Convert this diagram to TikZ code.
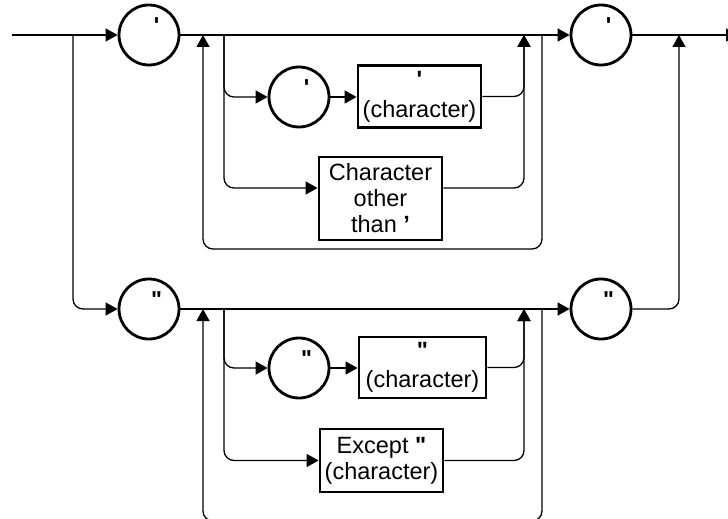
\documentclass[tikz,border=0pt]{standalone}
\usepackage{fontspec}
\setmainfont{Liberation Sans}
\usetikzlibrary{arrows.meta}
\begin{document}
\begin{tikzpicture}[x=1pt,y=-1pt,
  conn/.style={line width=1.3pt, rounded corners=10pt},
  arr/.style={-{Triangle[length=12pt,width=13pt]}},
  term/.style={circle, draw, line width=2.8pt, minimum size=60pt, inner sep=0pt},
  qmark/.style={label={[font=\fontsize{23}{27}\selectfont\bfseries, inner sep=0pt, shift={(7.5pt,9.5pt)}]center:#1}},
  nterm/.style={rectangle, draw, line width=2.8pt, inner sep=0pt, align=center, font=\fontsize{23.5}{26}\selectfont}
]
\clip (0,0) rectangle (728,519);

% terminals (circles)
\node[term, qmark=\textquotesingle] (c1) at (149,35) {};
\node[term, qmark=\textquotedbl] (c2) at (149,309) {};
\node[term, qmark=\textquotesingle] (c3) at (601,35) {};
\node[term, qmark=\textquotedbl] (c4) at (601,309) {};
\node[term, qmark=\textquotesingle] (i1) at (299,97) {};
\node[term, qmark=\textquotedbl] (i2) at (299,368) {};

% boxes
\node[nterm, minimum width=123pt, minimum height=62pt] (b1) at (419.5,96.5) {\textbf{\textquotesingle}\\[4pt](character)};
\node[nterm, minimum width=123pt, minimum height=83pt] (b2) at (380.5,198.5) {Character\\other\\than \textbf{’}};
\node[nterm, minimum width=127pt, minimum height=61pt] (b3) at (422.5,367.5) {\textbf{\textquotedbl}\\[3pt](character)};
\node[nterm, minimum width=123pt, minimum height=63pt] (b4) at (381.5,460.5) {Except \textbf{\textquotedbl}\\(character)};

% junction coordinates
\coordinate (start) at (12,35);
\coordinate (end) at (738,35);
\coordinate (s1) at (73,35);
\coordinate (m2) at (679,35);
\coordinate (t1r) at (542,35);
\coordinate (t1l) at (203,35);
\coordinate (t2r) at (542,309);
\coordinate (t2l) at (203,309);
\coordinate (ib1) at (224,35);
\coordinate (ib2) at (224,309);
\coordinate (jr1) at (524,35);
\coordinate (jr2) at (524,309);

% main lines
\draw[conn,arr] (start) -- (c1.west);
\draw[conn,arr] (s1) |- (c2.west);
\draw[conn,arr] (c1.east) -- (c3.west);
\draw[conn,arr] (c3.east) -- (end);
\draw[conn,arr] (c2.east) -- (c4.west);
\draw[conn,arr] (c4.east) -| (m2);

% loops
\draw[conn,arr] (t1r) -- ++(0,214) -| (t1l);
\draw[conn,arr] (t2r) -- ++(0,212) -| (t2l);

% upper inner branches
\draw[conn,arr] (ib1) |- (i1.west);
\draw[conn,arr] (ib1) |- ([yshift=10.5pt]b2.west);
\draw[conn,arr] (i1.east) -- (i1.east -| b1.west);
\draw[conn,arr] (b1.east) -| (jr1);
\draw[conn,arr] ([yshift=10.5pt]b2.east) -| (jr1);

% lower inner branches
\draw[conn,arr] (ib2) |- (i2.west);
\draw[conn,arr] (ib2) |- (b4.west);
\draw[conn,arr] (i2.east) -- (i2.east -| b3.west);
\draw[conn,arr] (b3.east) -| (jr2);
\draw[conn,arr] (b4.east) -| (jr2);
\end{tikzpicture}
\end{document}
